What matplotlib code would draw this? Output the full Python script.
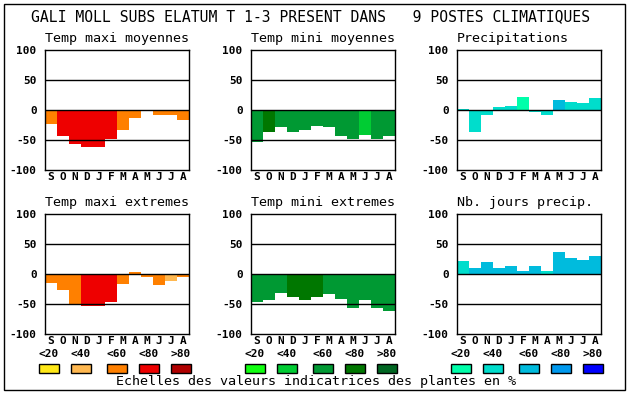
"""
GALI MOLL SUBS ELATUM - indicator values in 9 climate stations
Six small bar panels (12 months, Sept -> Aug) plus colour scale legend
"""

import matplotlib.pyplot as plt
import numpy as np
from matplotlib.patches import Rectangle

# data
months = ['S', 'O', 'N', 'D', 'J', 'F', 'M', 'A', 'M', 'J', 'J', 'A']
class_labels = ['<20', '<40', '<60', '<80', '>80']
yticks = [100, 50, 0, -50, -100]

warm = ['#FFE818', '#FFB850', '#FF8000', '#EE0000', '#B00000']
green = ['#11FF11', '#00CC33', '#009933', '#007700', '#006622']
blue = ['#00FFAA', '#00DDCC', '#00BBDD', '#0099EE', '#0000FF']

tmax_moy = [-24, -44, -56, -61, -61, -48, -34, -13, -3, -8, -8, -17]
tmax_moy_cls = [2, 3, 3, 3, 3, 3, 2, 2, None, 2, 2, 2]

tmin_moy = [-54, -36, -28, -36, -34, -27, -28, -44, -48, -42, -49, -44]
tmin_moy_cls = [2, 3, 2, 2, 2, 2, 2, 2, 2, 1, 2, 2]

precip = [2, -36, -8, 5, 7, 22, -3, -8, 17, 13, 12, 20]
precip_cls = [1, 1, 1, 1, 1, 0, 1, 1, 2, 1, 1, 1]

tmax_ext = [-15, -26, -50, -54, -54, -46, -16, 3, -5, -18, -11, -5]
tmax_ext_cls = [2, 2, 2, 3, 3, 3, 2, 2, 2, 2, 1, 2]

tmin_ext = [-46, -43, -32, -38, -43, -38, -33, -41, -56, -44, -56, -61]
tmin_ext_cls = [2, 2, 2, 3, 3, 3, 2, 2, 2, 2, 2, 2]

jours_precip = [22, 10, 20, 10, 13, 5, 13, 5, 37, 27, 23, 30]
jours_precip_cls = [1, 2, 2, 2, 2, 2, 2, 1, 2, 2, 2, 2]

title = 'GALI MOLL SUBS ELATUM T 1-3 PRESENT DANS   9 POSTES CLIMATIQUES'
footer = 'Echelles des valeurs indicatrices des plantes en %'

# layout (pixels of a 630x394 canvas)
FW, FH = 630, 394
col_x = [45, 251, 457]
row_y = [50, 214]
PW, PH = 144, 120
MONO = 'DejaVu Sans Mono'

fig = plt.figure(figsize=(FW / 100, FH / 100), dpi=100)

# overlay in pixel coords for frame, title and legend
ov = fig.add_axes([0, 0, 1, 1])
ov.set_xlim(0, FW)
ov.set_ylim(FH, 0)
ov.axis('off')
ov.add_patch(Rectangle((4, 4), 621, 386, fill=False, edgecolor='black', lw=1))
ov.text(31, 17, title, family=MONO, fontsize=10.6, ha='left', va='center')


def draw_panel(col, row, name, values, cls, palette):
    x0, y0 = col_x[col], row_y[row]
    ax = fig.add_axes([x0 / FW, 1 - (y0 + PH) / FH, PW / FW, PH / FH])
    colors = ['white' if c is None else palette[c] for c in cls]
    ax.bar(np.arange(12), values, width=1, align='edge', color=colors,
           linewidth=0, zorder=1)
    for yv in (50, 0, -50):
        ax.axhline(yv, color='black', lw=1, zorder=3)
    ax.set_xlim(0, 12)
    ax.set_ylim(-100, 100)
    ax.set_yticks(yticks)
    ax.set_yticklabels([str(v) for v in yticks],
                       family=MONO, fontsize=8, fontweight='bold')
    ax.set_xticks(np.arange(12) + 0.5)
    ax.set_xticklabels(months, family=MONO, fontsize=8, fontweight='bold')
    ax.tick_params(axis='y', length=0, pad=6)
    ax.tick_params(axis='x', length=0, pad=1.5)
    for sp in ax.spines.values():
        sp.set_linewidth(1)
    ov.text(x0, y0 - 12, name, family=MONO, fontsize=9.6, ha='left', va='center')
    return ax


draw_panel(0, 0, 'Temp maxi moyennes', tmax_moy, tmax_moy_cls, warm)
draw_panel(1, 0, 'Temp mini moyennes', tmin_moy, tmin_moy_cls, green)
draw_panel(2, 0, 'Precipitations', precip, precip_cls, blue)
draw_panel(0, 1, 'Temp maxi extremes', tmax_ext, tmax_ext_cls, warm)
draw_panel(1, 1, 'Temp mini extremes', tmin_ext, tmin_ext_cls, green)
draw_panel(2, 1, 'Nb. jours precip.', jours_precip, jours_precip_cls, blue)

# colour scale legend
box_dx = [-6, 26, 62, 94, 126]
for g, palette in enumerate([warm, green, blue]):
    for i, (lab, c) in enumerate(zip(class_labels, palette)):
        bx = col_x[g] + box_dx[i]
        ov.add_patch(Rectangle((bx, 364), 20, 9, facecolor=c,
                               edgecolor='black', lw=1))
        ov.text(bx + 10, 354, lab, family=MONO, fontsize=8, fontweight='bold',
                ha='center', va='center')

ov.text(316, 382, footer, family=MONO, fontsize=9.6, ha='center', va='center')

fig.savefig('out.png', dpi=100)
